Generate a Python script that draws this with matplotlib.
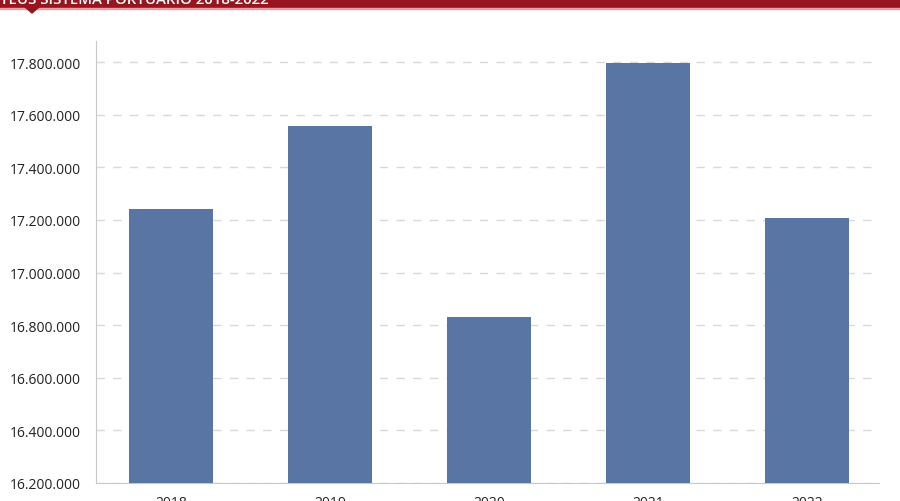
import matplotlib

matplotlib.use("Agg")
import matplotlib.pyplot as plt
from matplotlib.patches import Rectangle, Polygon
from matplotlib.ticker import FuncFormatter


years = ["2018", "2019", "2020", "2021", "2022"]
teus = [17242000, 17557000, 16831000, 17797000, 17208000]
y_ticks = [16200000, 16400000, 16600000, 16800000, 17000000,
           17200000, 17400000, 17600000, 17800000]
title = "TEUS SISTEMA PORTUARIO 2018-2022"

BAR_COLOR = "#5975a4"
BAND_COLOR = "#96151f"


def _thousands(value, _pos):
    return f"{int(round(value)):,}".replace(",", ".")


plt.rcParams["font.family"] = ["Open Sans", "DejaVu Sans"]

fig = plt.figure(figsize=(9, 5.02), dpi=100)
W, H = 900, 502

# axes placed in pixel terms
left, right, bottom, top = 96, 879, 484, 42
ax = fig.add_axes([left / W, 1 - bottom / H, (right - left) / W, (bottom - top) / H])

x = list(range(len(years)))
ax.bar(x, teus, width=0.53, color=BAR_COLOR, zorder=3)

ax.set_ylim(16200000, 17880000)
ax.set_xlim(-0.472, 4.453)
ax.set_yticks(y_ticks)
ax.yaxis.set_major_formatter(FuncFormatter(_thousands))
ax.set_xticks(x)
ax.set_xticklabels(years)

ax.grid(axis="y", color="#d9d9d9", linestyle=(0, (6, 6)), linewidth=1, zorder=0)
ax.tick_params(axis="both", length=0, labelsize=10, colors="#222222")
ax.tick_params(axis="x", pad=9)

for side in ["top", "right"]:
    ax.spines[side].set_visible(False)
ax.spines["left"].set_color("#c8c8c8")
ax.spines["bottom"].set_color("#c8c8c8")
for label in ax.get_yticklabels():
    label.set_horizontalalignment("left")
ax.tick_params(axis="y", pad=62)

# red title band with notch
fig.patches.append(Rectangle((0, 1 - 8.5 / H), 1, 8.5 / H, transform=fig.transFigure,
                             color=BAND_COLOR, zorder=5))
fig.patches.append(Rectangle((0, 1 - 10 / H), 1, 1.5 / H, transform=fig.transFigure,
                             color="#e8a0a6", zorder=5))
fig.patches.append(Polygon([(25 / W, 1 - 8 / H), (39 / W, 1 - 8 / H), (32 / W, 1 - 14 / H)],
                           closed=True, transform=fig.transFigure, color=BAND_COLOR, zorder=6))
fig.text(0.0, 1 - 4 / H, title, color="white", fontsize=10.8, fontweight="semibold",
         ha="left", va="baseline", zorder=7)

fig.savefig("out.png", dpi=100)
